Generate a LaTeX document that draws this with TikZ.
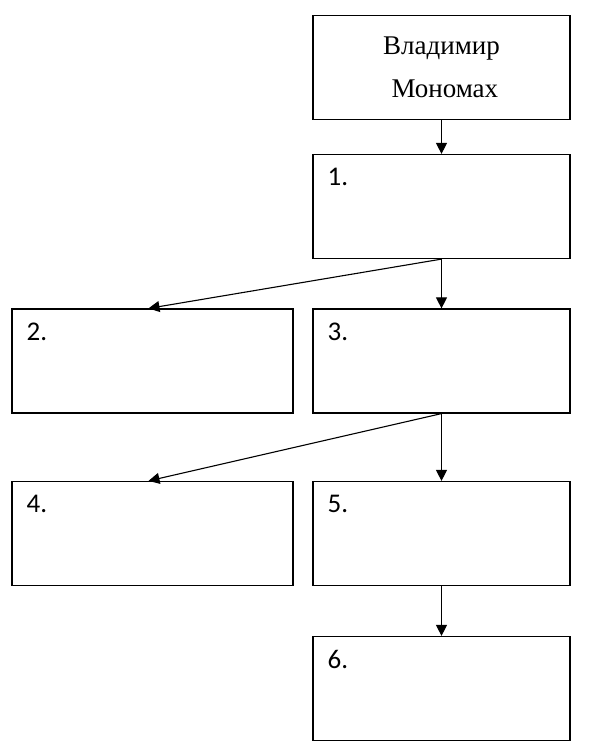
\documentclass[tikz,border=0pt]{standalone}
\usepackage{fontspec}
\setmainfont{Liberation Serif}
\newfontfamily\numfont{Carlito}
\usetikzlibrary{arrows.meta}
\tikzset{
  blk/.style={draw,line width=1.2pt,minimum width=257pt,minimum height=104pt,inner sep=0pt},
  wideblk/.style={blk,minimum width=281pt},
  num/.style={anchor=north west,inner sep=0pt,font=\numfont\fontsize{27}{30}\selectfont},
  arr/.style={-{Triangle[length=11pt,width=11pt]},line width=1.1pt}
}
\begin{document}
\begin{tikzpicture}[x=1pt,y=-1pt]
 \useasboundingbox (0,0) rectangle (593,742);
 % boxes
 \node[blk,align=center,font=\fontsize{27}{43}\selectfont] (vm) at (441.5,67.5) {Владимир\\\ Мономах};
 \node[blk] (b1) at (441.5,206.5) {};
 \node[wideblk] (b2) at (152.5,361) {};
 \node[blk] (b3) at (441.5,361) {};
 \node[wideblk] (b4) at (152.5,533.5) {};
 \node[blk] (b5) at (441.5,533.5) {};
 \node[blk] (b6) at (441.5,688.5) {};
 % numbers
 \node[num] (n1) at ([shift={(15,14)}]b1.north west) {1.};
 \node[num] (n2) at ([shift={(15,14)}]b2.north west) {2.};
 \node[num] (n3) at ([shift={(15,14)}]b3.north west) {3.};
 \node[num] (n4) at ([shift={(15,14)}]b4.north west) {4.};
 \node[num] (n5) at ([shift={(15,14)}]b5.north west) {5.};
 \node[num] (n6) at ([shift={(15,14)}]b6.north west) {6.};
 % arrows
 \draw[arr] (vm.south) -- (b1.north);
 \draw[arr] (b1.south) -- ([xshift=-4pt]b2.north);
 \draw[arr] (b1.south) -- (b3.north);
 \draw[arr] (b3.south) -- ([xshift=-4pt]b4.north);
 \draw[arr] (b3.south) -- (b5.north);
 \draw[arr] (b5.south) -- (b6.north);
\end{tikzpicture}
\end{document}
